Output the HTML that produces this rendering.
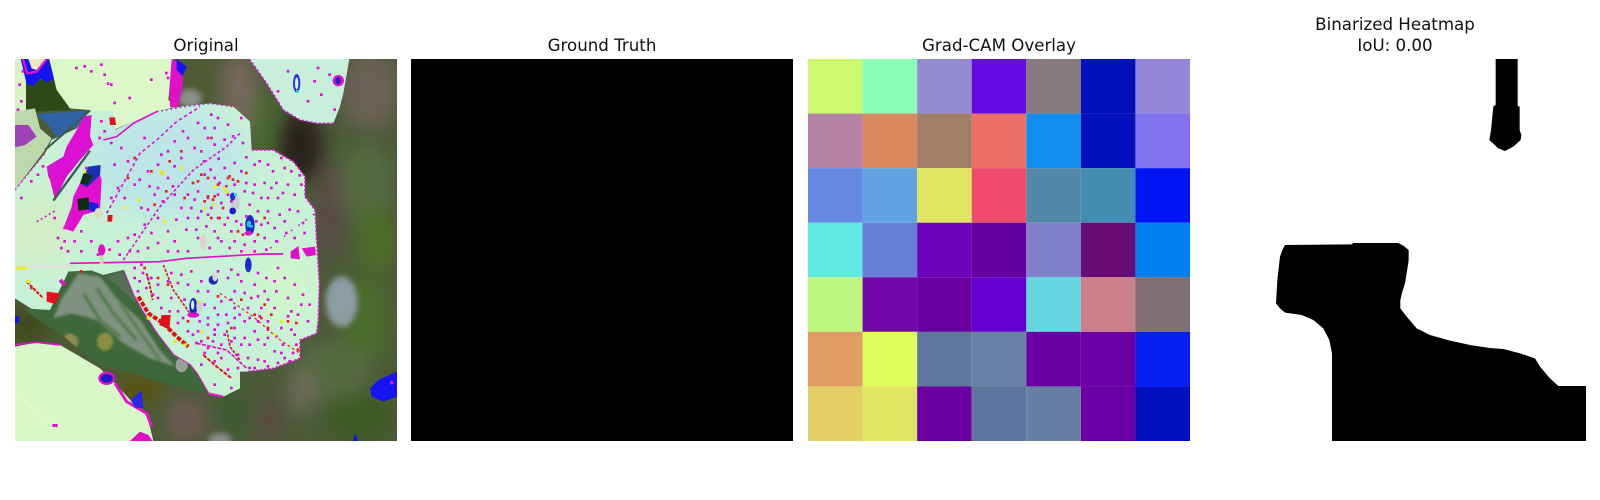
<!DOCTYPE html>
<html>
<head>
<meta charset="utf-8">
<title>Grad-CAM comparison</title>
<style>
html,body{margin:0;padding:0;background:#fff;width:1600px;height:500px;overflow:hidden}
svg{display:block}
text{font-family:"DejaVu Sans",sans-serif;font-size:16.67px;fill:#111;text-anchor:middle}
</style>
</head>
<body>
<svg id="fig" width="1600" height="500" viewBox="0 0 1600 500" xmlns="http://www.w3.org/2000/svg">
<defs>
<clipPath id="panel-clip"><rect x="45" y="27" width="1146" height="1146"/></clipPath>
<clipPath id="main-clip"><polygon points="45,420 135,310 155,270 230,235 270,182 340,182 345,240 400,215 470,185 540,170 630,160 700,170 750,215 755,300 820,300 880,335 915,380 915,440 945,480 950,570 958,700 955,810 950,850 900,870 900,925 820,955 740,965 720,965 720,1015 670,1040 625,1030 590,970 570,945 520,915 470,850 425,780 400,735 370,660 310,675 275,662 205,665 185,720 150,780 100,780 45,745"/></clipPath>
<clipPath id="dark-clip"><polygon points="205,665 275,662 310,675 370,660 400,735 425,780 470,850 520,915 570,945 590,970 625,1030 570,1020 480,995 400,970 300,945 240,900 180,850 100,800 70,775 150,780"/></clipPath>
<filter id="blur-bg" x="-30%" y="-30%" width="160%" height="160%"><feGaussianBlur stdDeviation="28"/></filter>
<filter id="blur-soft" x="-30%" y="-30%" width="160%" height="160%"><feGaussianBlur stdDeviation="9"/></filter>
<filter id="blur-small" x="-10%" y="-10%" width="120%" height="120%"><feGaussianBlur stdDeviation="4"/></filter>
<filter id="blur-leaf" x="-30%" y="-30%" width="160%" height="160%"><feGaussianBlur stdDeviation="40"/></filter>
</defs>
<rect width="1600" height="500" fill="#fff"/>

<text x="206" y="51">Original</text>
<text x="602" y="51">Ground Truth</text>
<text x="999" y="51">Grad-CAM Overlay</text>
<text x="1395" y="30">Binarized Heatmap</text>
<text x="1395" y="51">IoU: 0.00</text>

<g transform="translate(0,50) scale(0.33333)">
<g clip-path="url(#panel-clip)">
  <rect x="45" y="27" width="1146" height="1146" fill="#4c5a38"/>
  <g filter="url(#blur-bg)">
    <ellipse cx="620" cy="100" rx="70" ry="80" fill="#4f5c30"/>
    <ellipse cx="720" cy="130" rx="50" ry="130" fill="#77695f"/>
    <ellipse cx="790" cy="220" rx="40" ry="100" fill="#4a6a2e"/>
    <ellipse cx="900" cy="290" rx="70" ry="110" fill="#2a211e"/>
    <ellipse cx="1110" cy="120" rx="90" ry="120" fill="#6a6254"/>
    <ellipse cx="990" cy="480" rx="40" ry="140" fill="#5c4a4a"/>
    <ellipse cx="1100" cy="400" rx="80" ry="120" fill="#566a40"/>
    <ellipse cx="1130" cy="570" rx="60" ry="100" fill="#4d6c26"/>
    <ellipse cx="1100" cy="810" rx="70" ry="130" fill="#4a6c2c"/>
    <ellipse cx="1000" cy="960" rx="110" ry="90" fill="#566a42"/>
    <ellipse cx="905" cy="1020" rx="40" ry="70" fill="#6e6c5a"/>
    <ellipse cx="1080" cy="1100" rx="100" ry="70" fill="#3c5a22"/>
    <ellipse cx="810" cy="1110" rx="40" ry="70" fill="#5a4c42"/>
    <ellipse cx="560" cy="1110" rx="60" ry="70" fill="#6c5a52"/>
    <ellipse cx="700" cy="1090" rx="50" ry="60" fill="#3d5a30"/>
    <ellipse cx="80" cy="830" rx="60" ry="50" fill="#3f4a18"/>
    <ellipse cx="420" cy="1020" rx="70" ry="50" fill="#5a5410"/>
  </g>
  <g filter="url(#blur-soft)">
    <ellipse cx="1025" cy="755" rx="48" ry="76" fill="#8e9ca4"/>
    <ellipse cx="660" cy="1168" rx="35" ry="18" fill="#8c8c90"/>
    <ellipse cx="570" cy="145" rx="35" ry="28" fill="#8a8f88"/>
  </g>
  <polygon points="75,100 120,90 165,90 210,180 110,185 75,175" fill="#2d4a16"/>

  <polygon points="45,27 78,27 78,180 45,185" fill="#d5f5c5"/>
  <polygon points="62,27 145,27 165,85 140,98 120,85 100,108 80,102" fill="#1414f0"/>
  <polygon points="85,27 135,27 115,62 95,55" fill="#efe8c0"/>
  <path d="M68 27 L82 70 L110 65 L140 27" stroke="#e010d0" stroke-width="7" fill="none"/>

  <polygon points="148,27 520,27 510,100 505,150 530,170 470,185 400,215 340,240 270,180 210,175 170,120" fill="#dcf7c8"/>
  <polygon points="515,27 545,42 549,100 535,170 510,172 508,120" fill="#e010c8"/>
  <polygon points="530,27 560,50 547,78 530,60" fill="#1414f0"/>
  <polygon points="748,27 1048,27 1030,130 1020,170 1000,220 950,220 900,210 850,180 800,100" fill="#c8efdc"/>
  <polyline points="748,27 800,100 850,180 900,210 950,220 1000,220" fill="none" stroke="#d018d0" stroke-width="5" stroke-dasharray="7 6"/>
  <ellipse cx="890" cy="100" rx="11" ry="28" fill="#2838d8"/>
  <ellipse cx="890" cy="100" rx="5" ry="18" fill="#d8f0f0"/>
  <ellipse cx="1015" cy="92" rx="17" ry="17" fill="#e010c8"/>
  <ellipse cx="1014" cy="92" rx="8" ry="11" fill="#1828d0"/>

  <polygon points="45,185 105,175 120,235 155,265 135,300 45,420" fill="#bcd9ac"/>
  <polygon points="45,225 85,225 110,260 75,285 45,292" fill="#a040b8"/>
  <polygon points="110,192 270,182 230,230 170,262 150,230" fill="#2f62a4"/>

  <polygon points="45,420 135,310 155,270 230,235 270,182 340,182 345,240 400,215 470,185 540,170 630,160 700,170 750,215 755,300 820,300 880,335 915,380 915,440 945,480 950,570 958,700 955,810 950,850 900,870 900,925 820,955 740,965 720,965 720,1015 670,1040 625,1030 590,970 570,945 520,915 470,850 425,780 400,735 370,660 310,675 275,662 205,665 185,720 150,780 100,780 45,745" fill="#c8f2d6"/>
  <g clip-path="url(#main-clip)">
    <g filter="url(#blur-leaf)">
      <ellipse cx="500" cy="340" rx="250" ry="170" fill="#bce6e6"/>
      <ellipse cx="120" cy="540" rx="90" ry="120" fill="#d2eec4"/>
      <ellipse cx="850" cy="720" rx="90" ry="110" fill="#cff6cc"/>
      <ellipse cx="640" cy="800" rx="120" ry="90" fill="#bff0e0"/>
    </g>
  </g>
  <polyline points="45,650 210,650" stroke="#ecd8e0" stroke-width="6" fill="none"/>
  <polyline points="45,420 135,310" stroke="#e020d8" stroke-width="5" stroke-dasharray="5 10" fill="none"/>
  <polyline points="470,185 540,172 630,160 700,170" stroke="#a030c0" stroke-width="5" stroke-dasharray="5 9" fill="none"/>
  <polyline points="755,300 820,300 880,335 915,380 915,440 945,480 950,570 958,700 955,810 950,850 900,870 900,925 820,955 740,965" stroke="#e018d0" stroke-width="5" stroke-dasharray="7 5" fill="none"/>
  <polyline points="370,662 400,735 425,780 470,850 520,915 570,945 590,970 625,1030 670,1040" stroke="#e818d0" stroke-width="6" fill="none"/>

  <polygon points="250,200 275,195 270,260 280,285 240,330 200,380 165,450 150,390 145,380 140,350 190,320 200,290 230,240" fill="#dc10d0"/>
  <polyline points="160,452 270,302" stroke="#3a5a58" stroke-width="7" fill="none"/>
  <polyline points="135,300 270,182" stroke="#3a5a48" stroke-width="6" fill="none"/>
  <polygon points="290,345 305,390 300,480 250,495 220,545 190,535 215,470 220,440 250,380" fill="#e010d0"/>
  <polygon points="265,350 302,345 300,375 262,412 240,400" fill="#1a30b0"/>
  <polygon points="250,370 280,375 262,405 240,400" fill="#10301a"/>
  <polygon points="232,447 266,442 268,478 235,482" fill="#102c14"/>
  <polygon points="268,455 296,462 290,488 266,480" fill="#1620e0"/>

  <polygon points="205,665 275,662 310,675 370,660 400,735 425,780 470,850 520,915 570,945 590,970 625,1030 570,1020 480,995 400,970 300,945 240,900 180,850 100,800 70,775 150,780" fill="#3d683a"/>
  <g clip-path="url(#dark-clip)">
    <g filter="url(#blur-small)">
      <polygon points="235,670 300,680 350,745 420,810 480,900 525,950 450,925 370,880 290,810 215,790 160,805 185,745" fill="#7f917f"/>
      <polygon points="320,680 370,665 400,735 412,765 360,715" fill="#566f56"/>
      <polyline points="290,715 340,790 410,870" stroke="#4e7a48" stroke-width="10" fill="none"/>
      <polyline points="250,730 300,810 360,860" stroke="#527c4c" stroke-width="10" fill="none"/>
      <polyline points="360,760 430,860 480,930" stroke="#4e7a48" stroke-width="8" fill="none"/>
      <ellipse cx="210" cy="875" rx="24" ry="24" fill="#8f8c50"/>
      <ellipse cx="315" cy="875" rx="24" ry="27" fill="#8c9040"/>
    </g>
    <ellipse cx="545" cy="945" rx="18" ry="22" fill="#98a098"/>
  </g>

  <polygon points="45,890 110,877 180,885 240,920 300,955 345,1000 400,1060 440,1090 460,1173 45,1173" fill="#d8f8c8"/>
  <polyline points="45,884 110,877 180,885" stroke="#e010d0" stroke-width="5" fill="none"/>
  <polyline points="345,1000 380,1055 440,1090 455,1130" stroke="#e018c8" stroke-width="9" fill="none"/>
  <polyline points="45,1030 160,1125" stroke="#eef8c0" stroke-width="4" fill="none"/>
  <ellipse cx="320" cy="985" rx="25" ry="20" fill="#e010c8"/>
  <ellipse cx="320" cy="985" rx="18" ry="13" fill="#1a18c8"/>
  <polygon points="392,1050 425,1020 430,1075 405,1072" fill="#2828e8"/>
  <polygon points="390,1173 420,1145 445,1155 458,1173" fill="#dd10c8"/>
  <polygon points="1110,1015 1135,990 1191,965 1191,1040 1150,1055 1115,1040" fill="#1414f0"/>
  <rect x="1170" y="993" width="10" height="10" fill="#e010d0"/>
  <polygon points="1058,1173 1066,1150 1074,1173" fill="#1414f0"/>
  <rect x="45" y="798" width="12" height="22" fill="#1414f0"/>
  <rect x="157" y="1122" width="16" height="9" fill="#e010c8"/>

  <polygon points="872,605 895,588 900,628 872,625" fill="#e010c8"/>
  <polygon points="905,595 945,590 948,615 920,620" fill="#e010c8"/>

  <g id="veins">
    <polyline points="370,630 480,470 580,360 680,290 720,250" stroke="#dc18d0" stroke-width="5" stroke-dasharray="9 7" fill="none"/>
    <polyline points="320,490 420,310 470,270 530,215 600,170" stroke="#dc18d0" stroke-width="5" stroke-dasharray="10 8" fill="none"/>
    <polyline points="310,270 350,260 400,220 470,185" stroke="#e010d0" stroke-width="5" fill="none"/>
    <polyline points="110,515 170,480" stroke="#e010d0" stroke-width="5" stroke-dasharray="6 8" fill="none"/>
    <polyline points="210,640 480,635 560,625 790,612 850,612" stroke="#e010c8" stroke-width="5" fill="none"/>
    <polyline points="790,612 870,545 945,490" stroke="#e018d0" stroke-width="5" stroke-dasharray="5 22" fill="none"/>
    <polyline points="440,670 450,710 458,750" stroke="#e01010" stroke-width="6" stroke-dasharray="9 4" fill="none"/>
    <polyline points="490,645 520,720 570,790" stroke="#e01830" stroke-width="5" stroke-dasharray="9 4" fill="none"/>
    <polyline points="610,915 650,950 695,985" stroke="#e01018" stroke-width="6" stroke-dasharray="12 4" fill="none"/>
    <polyline points="590,880 680,900 740,955" stroke="#e010c8" stroke-width="5" stroke-dasharray="12 4" fill="none"/>
    <polyline points="680,840 690,890 720,930" stroke="#e01030" stroke-width="5" stroke-dasharray="9 4" fill="none"/>
    <polyline points="660,730 760,800 840,870 900,910" stroke="#e83020" stroke-width="4" stroke-dasharray="8 8" fill="none"/>
    <polyline points="415,740 445,790 490,820 530,860 565,890" stroke="#e01010" stroke-width="12" stroke-dasharray="14 5" fill="none"/>
    <polyline points="80,695 130,745" stroke="#e01010" stroke-width="6" stroke-dasharray="10 4" fill="none"/>
    <polyline points="180,690 195,705" stroke="#e018c8" stroke-width="12" fill="none"/>
  </g>
  <polygon points="485,795 512,795 508,838 478,825" fill="#e0101a"/>
  <polygon points="140,725 180,730 165,762 140,755" fill="#e8101a"/>
  <polygon points="328,202 345,202 348,225 330,225" fill="#e01020"/>
  <polygon points="323,495 338,495 336,515 322,515" fill="#e01020"/>

  <ellipse cx="705" cy="460" rx="14" ry="26" fill="#c8d0d0"/>
  <ellipse cx="698" cy="440" rx="8" ry="12" fill="#1a30d0"/>
  <ellipse cx="698" cy="483" rx="10" ry="10" fill="#2018c0"/>
  <ellipse cx="750" cy="525" rx="14" ry="30" fill="#1a2cc0"/>
  <ellipse cx="746" cy="522" rx="6" ry="10" fill="#10c0d0"/>
  <ellipse cx="745" cy="550" rx="11" ry="7" fill="#e010d0"/>
  <ellipse cx="610" cy="575" rx="10" ry="24" fill="#e0d0d0"/>
  <ellipse cx="305" cy="600" rx="11" ry="17" fill="#e010c8"/>
  <ellipse cx="305" cy="630" rx="8" ry="14" fill="#d8d0c0"/>
  <ellipse cx="295" cy="490" rx="12" ry="16" fill="#dcdcc0"/>
  <ellipse cx="745" cy="645" rx="10" ry="22" fill="#1a30c8"/>
  <ellipse cx="640" cy="690" rx="14" ry="14" fill="#2020d0"/>
  <ellipse cx="645" cy="680" rx="8" ry="14" fill="#d0d8e0"/>
  <ellipse cx="580" cy="770" rx="12" ry="26" fill="#1828c0"/>
  <ellipse cx="578" cy="765" rx="5" ry="14" fill="#d0f0f0"/>
  <ellipse cx="598" cy="770" rx="9" ry="20" fill="#d0d0d0"/>
  <ellipse cx="580" cy="795" rx="18" ry="8" fill="#e010c8"/>

  <g id="speckle"></g>
</g>
</g>

<rect x="411" y="59" width="382" height="382" fill="#000"/>

<g id="cam"></g>

<g>
  <rect x="1204" y="59" width="382" height="382" fill="#fff"/>
  <g transform="translate(1170,0) scale(0.33333)">
    <polygon fill="#000" points="977,177 1043,177 1043,318 1049,320 1049,390 1054,405 1052,420 1030,440 1005,453 985,445 958,420 963,390 970,320 977,315"/>
    <polygon fill="#000" points="345,735 545,733 550,729 685,729 700,737 716,750 716,780 710,820 705,850 697,875 691,900 691,925 710,950 740,985 780,1005 840,1022 900,1035 960,1044 1000,1047 1050,1060 1095,1075 1110,1100 1140,1135 1165,1158 1248,1158 1248,1323 486,1323 486,1060 478,1020 460,985 430,960 395,945 345,938 330,925 318,910 322,840 330,770 337,750"/>
  </g>
</g>
</svg>
<script>
var camRows = [
  ["#ccf96e","#8affb9","#938bcf","#650ae0","#877a7c","#0010bb","#9587d7"],
  ["#b583a3","#dc8860","#a17f66","#ec7066","#128eef","#0010bb","#8172f0"],
  ["#668ae2","#60a3e0","#e0e662","#ef4b6c","#5389a6","#438cb2","#0114f3"],
  ["#60e9e0","#6780d5","#6b04b8","#6500a0","#7e80cc","#660c72","#007ef0"],
  ["#bdf77f","#7107a6","#6800a0","#6500d0","#64d6e2","#cc808b","#7f6f74"],
  ["#e09e66","#dffc5e","#60779c","#6880a4","#6a00a2","#6c00a4","#0520f5"],
  ["#e3cf66","#e0e662","#6a00a2","#5e749c","#667fa2","#6c00a4","#000fc0"]
];
var magentaDots = [[160,500],[190,570],[220,570],[240,600],[270,570],[290,610],[350,570],[380,560],[400,550],[430,520],[450,545],[470,500],[500,540],[520,570],[560,500],[590,500],[540,470],[570,470],[600,480],[620,490],[650,500],[670,520],[690,540],[720,520],[640,540],[660,570],[700,570],[720,600],[760,570],[790,560],[820,530],[850,510],[880,560],[910,545],[780,520],[800,480],[830,440],[860,400],[880,430],[810,410],[780,440],[760,400],[730,420],[700,400],[670,350],[640,380],[610,370],[590,420],[560,430],[620,440],[650,430],[680,430],[720,360],[760,340],[800,340],[840,320],[815,360],[870,360],[900,400],[745,460],[770,480],[500,380],[470,340],[440,360],[400,400],[370,440],[350,410],[380,330],[360,290],[430,260],[500,300],[540,320],[560,260],[610,230],[650,200],[620,260],[680,220],[720,200],[640,280],[330,440],[340,340],[170,560],[200,600],[240,540],[420,470],[460,430],[520,430],[420,640],[450,680],[500,690],[470,700],[540,670],[570,660],[600,690],[620,720],[660,750],[700,720],[680,680],[720,690],[760,700],[790,720],[820,690],[850,680],[860,740],[900,760],[920,810],[880,850],[840,830],[800,810],[780,770],[740,770],[700,770],[650,790],[620,820],[590,840],[640,850],[660,880],[620,890],[700,830],[730,860],[760,840],[790,880],[820,900],[850,920],[830,935],[790,930],[760,950],[740,920],[710,910],[690,870],[660,920],[650,820],[530,780],[560,840],[600,870],[510,740],[470,740],[440,680],[400,680],[410,720],[750,740],[730,810],[770,810],[820,770],[870,780],[845,880],[875,905],[700,800],[675,790],[720,880],[600,940],[640,1000],[690,1010],[60,150],[55,100],[65,60],[50,175],[320,97],[330,100],[450,85],[495,65],[500,80],[385,140],[340,155],[300,40],[270,60],[250,45],[225,50],[310,70],[860,60],[920,150],[960,130],[940,90],[985,70],[830,120],[950,50],[1000,175],[60,440],[90,390],[110,370],[125,345],[300,210],[310,240],[295,260],[255,350],[330,275],[180,590],[190,530],
[608,330],[628,355],[652,322],[700,335],[735,318],[775,330],[850,350],[895,372],[655,395],[675,405],[735,395],[755,425],[790,395],[825,395],[845,425],[800,440],[690,450],[660,455],[630,470],[580,445],[525,505],[555,535],[585,535],[615,525],[680,500],[705,510],[735,495],[765,510],[800,515],[835,490],[865,475],[890,480],[905,515],[855,545],[825,570],[795,595],[760,600],[730,580],[685,590],[650,560],[625,590],[590,560],[560,600],[530,600],[500,600],[470,575],[440,590],[410,600],[385,600],[355,610],[325,595],[440,475],[485,450],[515,405],[445,405],[415,385],[480,310],[520,345],[580,290],[600,300],[640,230],[670,265],[695,255],[725,275],[590,215],[630,190],[545,240],[520,270],[470,410],
[400,650],[425,665],[510,665],[530,695],[560,700],[590,720],[650,660],[690,655],[710,670],[770,665],[795,680],[830,650],[880,700],[905,730],[925,760],[890,790],[860,795],[825,720],[800,745],[770,735],[730,725],[690,745],[640,770],[610,760],[550,745],[505,780],[620,800],[680,815],[715,790],[745,800],[775,795],[800,835],[825,855],[870,835],[770,865],[745,880],[800,860],[700,860],[670,850],[635,870],[595,810],[585,875],[610,905],[640,930],[680,955],[710,950],[770,925],[800,945],[840,905],[885,880],[865,930],[650,905],[745,950],[480,770],[455,730],[435,710],[415,690],[530,815],[545,800],[575,850],[640,835]];
var redDots = [[540,300],[505,330],[630,260],[480,362],[450,360],[600,370],[620,380],[680,380],[710,390],[735,365],[620,435],[640,435],[610,450],[655,500],[630,500],[665,470],[710,540],[725,550],[790,500],[770,550],[575,395],[550,440],[495,420],[460,460],[380,380],[400,320],[430,650],[470,680],[500,700],[760,790],[780,800],[810,790],[840,810],[860,810],[800,830],[690,830],[620,860],[560,810],[720,745],[650,735],[885,815],[890,895],[790,760],[240,660],[90,710],[685,375],[695,385],[635,445],[650,400],[590,390]];
var yellowDots = [[478,360],[485,368],[370,468],[410,445],[640,405],[668,410],[675,420],[636,460],[610,470],[490,510],[540,350],[50,650],[60,650],[70,650],[80,690],[840,810],[820,850],[600,840],[440,800],[520,870],[550,880],[250,360],[590,750]];
var cyanDots = [[702,430],[745,515],[750,525],[888,120]];

var svgNS = "http://www.w3.org/2000/svg";
var camX0 = 808, camY0 = 59, camSize = 382;
function camX(col){ return camX0 + col * camSize / camRows[0].length; }
function camY(row){ return camY0 + row * camSize / camRows.length; }

var camGroup = document.getElementById("cam");
camRows.forEach(function(rowColors, r){
  rowColors.forEach(function(color, c){
    var cell = document.createElementNS(svgNS, "rect");
    
    
    cell.setAttribute("x", camX(c));
    cell.setAttribute("y", camY(r));
    cell.setAttribute("width", camX(c + 1) - camX(c));
    cell.setAttribute("height", camY(r + 1) - camY(r));
    cell.setAttribute("fill", color);
    camGroup.appendChild(cell);
  });
});

var speckleGroup = document.getElementById("speckle");
function drawDots(list, color, size){
  list.forEach(function(p){
    var dot = document.createElementNS(svgNS, "rect");
    
    
    dot.setAttribute("x", p[0]);
    dot.setAttribute("y", p[1]);
    dot.setAttribute("width", size);
    dot.setAttribute("height", size);
    dot.setAttribute("fill", color);
    speckleGroup.appendChild(dot);
  });
}
drawDots(magentaDots, "#e010d8", 8);
drawDots(redDots, "#e82018", 8);
drawDots(yellowDots, "#e8f010", 9);
drawDots(cyanDots, "#20d0e0", 8);
</script>
</body>
</html>
